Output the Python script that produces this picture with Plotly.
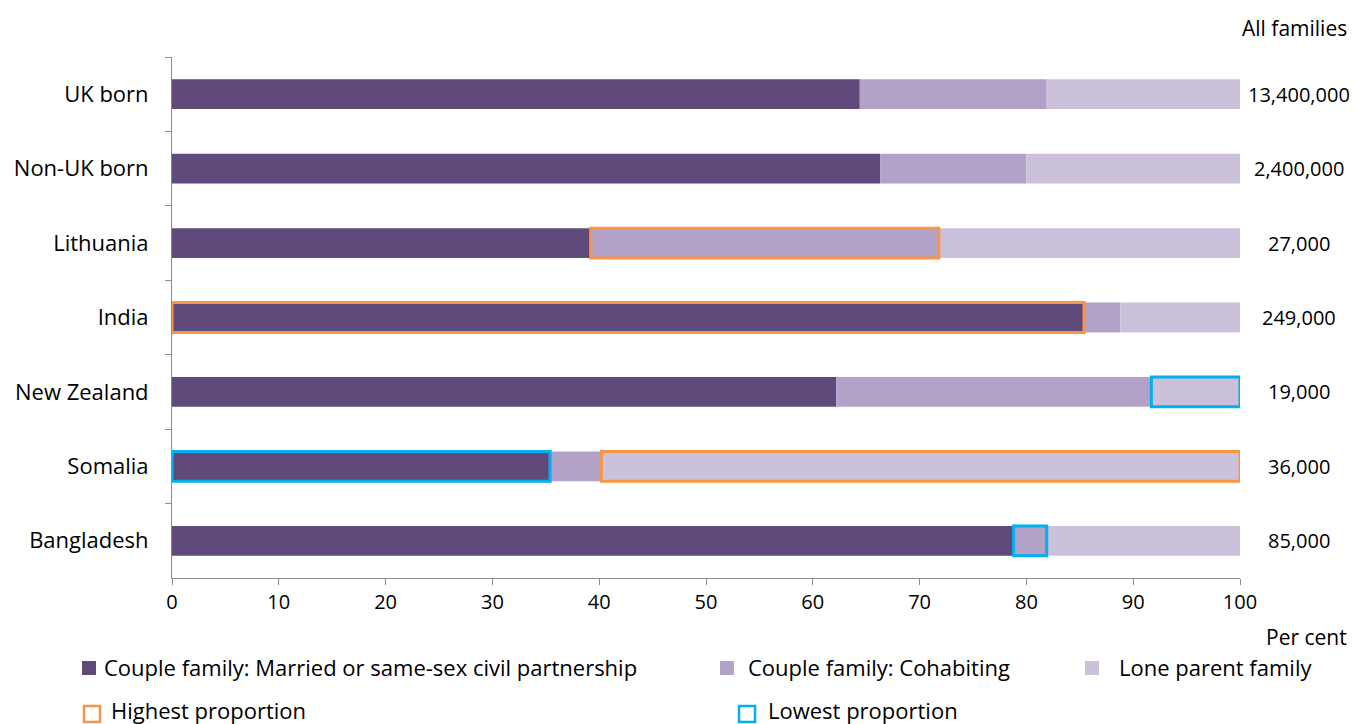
import plotly.graph_objects as go

# ---- data ----
categories = ["UK born", "Non-UK born", "Lithuania", "India", "New Zealand", "Somalia", "Bangladesh"]
married = [64.4, 66.3, 39.2, 85.4, 62.2, 35.4, 78.8]
cohabiting = [17.5, 13.7, 32.6, 3.4, 29.5, 4.8, 3.1]
lone_parent = [18.1, 20.0, 28.2, 11.2, 8.3, 59.8, 18.1]
all_families = ["13,400,000", "2,400,000", "27,000", "249,000", "19,000", "36,000", "85,000"]
series_names = ["Couple family: Married or same-sex civil partnership",
                "Couple family: Cohabiting",
                "Lone parent family"]
x_ticks = [0, 10, 20, 30, 40, 50, 60, 70, 80, 90, 100]
# highlighted segments: (category, series index)
highest = [("Lithuania", 1), ("India", 0), ("Somalia", 2)]
lowest = [("New Zealand", 2), ("Somalia", 0), ("Bangladesh", 1)]

# ---- style ----
colors = ["#604A7B", "#B3A2C7", "#CCC1DA"]
orange = "#F79646"
blue = "#00B0F0"
FONT = "Open Sans"
FS = 22
TXT = "#000000"
OFF = 8  # page body margin
W, H = 1358 - OFF, 724 - OFF
L, R, T = 172 - OFF, 118, 57 - OFF
B = 146
PW, PH = W - L - R, H - T - B


def px_x(p):
    return (p - OFF - L) / PW


def px_y(p):
    return (H - B - (p - OFF)) / PH


series = [married, cohabiting, lone_parent]
bases = []
for i in range(3):
    if i == 0:
        bases.append([0.0] * len(categories))
    else:
        bases.append([b + v for b, v in zip(bases[i - 1], series[i - 1])])

fig = go.Figure()
for i in range(3):
    fig.add_trace(go.Bar(
        y=categories, x=series[i], base=bases[i], orientation="h",
        name=series_names[i], marker=dict(color=colors[i], line=dict(width=0)),
        showlegend=False, hoverinfo="skip"))


def add_highlight(items, col):
    ys, xs, bs = [], [], []
    for cat, si in items:
        k = categories.index(cat)
        ys.append(cat)
        xs.append(series[si][k])
        bs.append(bases[si][k])
    fig.add_trace(go.Bar(
        y=ys, x=xs, base=bs, orientation="h",
        marker=dict(color="rgba(0,0,0,0)", line=dict(color=col, width=3)),
        showlegend=False, hoverinfo="skip"))


add_highlight(highest, orange)
add_highlight(lowest, blue)

annotations = []
annotations.append(dict(text="All families", xref="paper", yref="paper",
                        x=px_x(1294), y=px_y(28), showarrow=False,
                        xanchor="center", yanchor="middle",
                        font=dict(family=FONT, size=21, color=TXT)))
for cat, v in zip(categories, all_families):
    annotations.append(dict(text=v, xref="paper", yref="y", x=px_x(1299), y=cat,
                            showarrow=False, xanchor="center", yanchor="middle",
                            font=dict(family=FONT, size=20, color=TXT)))
annotations.append(dict(text="Per cent", xref="paper", yref="paper",
                        x=px_x(1306), y=px_y(637), showarrow=False,
                        xanchor="center", yanchor="middle",
                        font=dict(family=FONT, size=21, color=TXT)))

shapes = []
# legend row 1: filled squares
leg1 = [(89, 102), (727, 746), (1092, 1117)]
for i, (cx, tx) in enumerate(leg1):
    shapes.append(dict(type="rect", xref="paper", yref="paper",
                       x0=px_x(cx - 7), x1=px_x(cx + 7), y0=px_y(675), y1=px_y(661),
                       fillcolor=colors[i], line=dict(width=0)))
    annotations.append(dict(text=series_names[i], xref="paper", yref="paper",
                            x=px_x(tx), y=px_y(667), showarrow=False,
                            xanchor="left", yanchor="middle",
                            font=dict(family=FONT, size=FS, color=TXT)))
# legend row 2: hollow squares
leg2 = [(92, 109, orange, "Highest proportion"), (747, 766, blue, "Lowest proportion")]
for cx, tx, col, lab in leg2:
    shapes.append(dict(type="rect", xref="paper", yref="paper",
                       x0=px_x(cx - 8), x1=px_x(cx + 8), y0=px_y(722), y1=px_y(706),
                       fillcolor="rgba(0,0,0,0)", line=dict(color=col, width=2.5)))
    annotations.append(dict(text=lab, xref="paper", yref="paper",
                            x=px_x(tx), y=px_y(710), showarrow=False,
                            xanchor="left", yanchor="middle",
                            font=dict(family=FONT, size=FS, color=TXT)))

fig.update_layout(
    width=W, height=H, autosize=False,
    margin=dict(l=L, r=R, t=T, b=B, pad=0, autoexpand=False),
    paper_bgcolor="white", plot_bgcolor="white",
    barmode="overlay", bargap=0.6,
    font=dict(family=FONT, size=FS, color=TXT),
    annotations=annotations, shapes=shapes,
    xaxis=dict(range=[0, 100], tickvals=x_ticks, ticks="outside", ticklen=6,
               tickcolor="#8c8c8c", showline=True, linecolor="#8c8c8c", linewidth=1,
               showgrid=False, zeroline=False, fixedrange=True, automargin=False,
               tickfont=dict(family=FONT, size=20, color=TXT)),
    yaxis=dict(type="category", categoryorder="array", categoryarray=categories,
               range=[len(categories) - 0.5, -0.5], ticks="outside", ticklen=6,
               tickson="boundaries", tickcolor="#8c8c8c", showline=True,
               linecolor="#8c8c8c", linewidth=1, showgrid=False, zeroline=False,
               ticklabelstandoff=18, automargin=False,
               tickfont=dict(family=FONT, size=FS, color=TXT)),
)

fig.write_html("out.html")
